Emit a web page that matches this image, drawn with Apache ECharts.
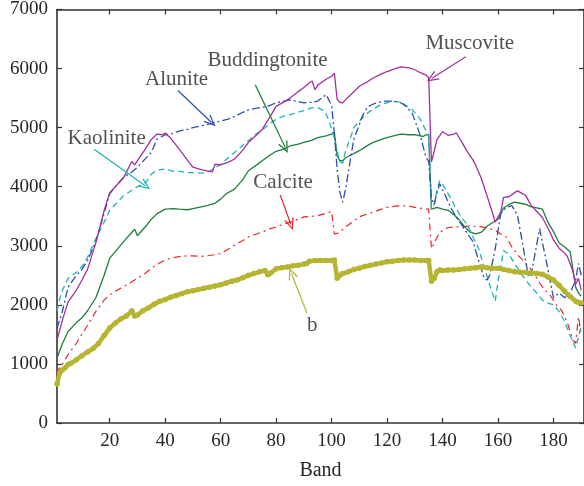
<!DOCTYPE html>
<html>
<head>
<meta charset="utf-8">
<script src="https://cdn.jsdelivr.net/npm/echarts@6/dist/echarts.min.js"></script>
<style>
  html, body { margin: 0; padding: 0; background: #ffffff; }
  #chart { width: 584px; height: 486px; }
</style>
</head>
<body>
<div id="chart"></div>
<script>
// Spectral curves (band number -> value)
const muscoviteBands = [1,3,5,8,10,12,15,18,20,22,25,28,29,30,33,35,37,39,40,42,45,48,50,53,55,57,58,60,63,65,68,70,73,75,78,80,83,85,88,90,92,93,94,95,98,100,101,102,103,104,105,107,110,113,115,118,120,123,125,128,130,132,134,135,136,137,138,140,142,144,145,147,149,151,152,154,156,158,159,161,162,164,166,167,169,170,172,174,176,178,180,182,184,185,186,187,188,189,190];
const muscoviteValues = [1400,1750,2050,2250,2420,2600,3050,3600,3900,4000,4150,4430,4370,4440,4650,4800,4890,4880,4910,4820,4640,4450,4330,4290,4270,4250,4380,4370,4420,4470,4620,4750,4880,4970,5200,5360,5440,5500,5610,5680,5760,5790,5640,5720,5820,5870,5920,5480,5430,5420,5470,5560,5700,5780,5840,5910,5950,6000,6030,6010,5980,5930,5890,5850,4420,4600,4800,4930,4870,4890,4910,4750,4590,4450,4360,4140,3850,3560,3400,3570,3820,3830,3900,3930,3880,3850,3680,3580,3480,3300,3100,2960,2880,2820,2700,2570,2350,2450,2250];

const aluniteBands = [1,3,5,8,10,12,15,18,20,22,25,28,30,33,35,37,40,42,45,48,50,53,55,58,60,63,65,68,70,73,75,78,80,83,85,88,90,93,95,98,100,101,102,103,104,105,106,108,110,111,113,115,118,120,122,125,127,129,131,132,134,135,136,137,138,139,141,143,145,147,149,151,153,155,156,157,159,161,163,165,167,169,171,172,173,175,176,177,179,180,182,184,186,188,189,190];
const aluniteValues = [1600,1900,2300,2500,2600,2750,3070,3550,3880,4000,4160,4250,4330,4480,4580,4800,4880,4890,4940,4970,5000,5030,5050,5090,5110,5150,5190,5260,5300,5330,5340,5380,5420,5450,5470,5440,5420,5430,5450,5560,5380,4900,4300,3900,3740,3950,4240,4800,5050,5190,5350,5400,5440,5450,5450,5420,5350,5250,5000,4860,4500,4430,3800,3700,3900,4050,3850,3640,3480,3350,3200,3070,2750,2450,2420,2500,2950,3550,3650,3680,3520,3000,2470,2500,2780,3290,3050,2840,2350,2120,2200,2120,2200,2420,2700,2500];

const kaoliniteBands = [1,2,3,5,8,10,12,15,18,20,22,25,28,30,33,35,37,40,43,45,48,50,53,55,58,60,63,65,68,70,73,75,78,80,83,85,88,90,93,95,97,98,99,100,101,102,103,104,105,107,108,110,113,115,118,120,122,125,127,129,131,132,134,135,136,137,138,139,140,141,143,145,147,149,151,153,155,157,159,160,161,162,164,166,168,170,172,174,176,178,180,182,184,186,188,189,190];
const kaoliniteValues = [1900,2100,2250,2450,2550,2650,2800,3120,3400,3600,3700,3850,3940,4000,4070,4210,4280,4300,4260,4260,4240,4240,4230,4240,4320,4380,4500,4580,4700,4780,4900,4960,5080,5140,5200,5220,5260,5290,5340,5340,5290,5230,5120,4980,4800,4600,4420,4400,4600,4850,5000,5110,5250,5310,5400,5420,5450,5430,5370,5310,5200,5140,4950,4900,3620,3700,3950,4100,4050,3960,3800,3620,3470,3350,3150,2950,2640,2340,2060,2400,2650,2920,2850,2700,2550,2420,2300,2200,2080,2030,2000,1890,1720,1480,1270,1450,1650];

const buddingtoniteBands = [1,3,5,8,10,12,15,18,20,22,25,28,29,30,33,35,37,40,43,45,48,50,53,55,58,60,62,65,68,70,73,75,78,80,83,85,88,90,93,95,98,100,101,102,103,104,105,108,110,113,115,118,120,123,125,128,130,133,134,135,136,138,140,142,144,146,148,150,152,154,156,158,160,162,164,166,168,170,172,174,176,178,180,182,184,186,187,188,189,190];
const buddingtoniteValues = [1100,1350,1550,1700,1780,1900,2120,2500,2790,2900,3070,3230,3280,3170,3330,3450,3540,3620,3630,3620,3610,3630,3660,3680,3720,3790,3880,3960,4120,4270,4370,4440,4540,4600,4640,4690,4720,4750,4790,4830,4860,4890,4920,4520,4440,4440,4490,4560,4610,4700,4750,4800,4830,4870,4890,4880,4880,4850,4880,4870,3620,3650,3620,3600,3530,3440,3320,3230,3200,3230,3330,3390,3450,3640,3700,3740,3720,3700,3660,3640,3620,3400,3240,3050,2980,2900,2600,2300,2200,2150];

const calciteBands = [1,2,3,5,8,10,12,15,18,20,22,25,28,30,33,35,38,40,43,45,48,50,53,55,58,60,63,65,68,70,73,75,78,80,83,85,88,90,93,95,98,100,101,102,103,105,108,110,113,115,118,120,123,125,128,130,133,135,136,137,139,142,145,147,150,152,154,157,159,161,163,165,167,169,171,173,175,177,179,181,183,185,186,187,188,189,190];
const calciteValues = [830,950,1000,1160,1350,1500,1650,1890,2080,2170,2230,2310,2390,2450,2540,2620,2710,2760,2800,2815,2830,2830,2820,2830,2850,2870,2950,3010,3090,3150,3200,3235,3290,3320,3370,3400,3450,3490,3500,3510,3550,3580,3200,3210,3230,3320,3420,3490,3540,3570,3620,3650,3670,3680,3670,3650,3630,3620,2950,3050,3230,3310,3320,3320,3340,3330,3320,3290,3260,3200,3150,2980,2850,2750,2650,2530,2370,2250,2150,2000,1900,1700,1550,1400,1350,1800,1500];

const bBands = [1,2,3,4,5,6,8,10,12,14,16,18,20,22,24,26,28,29,30,32,34,36,38,40,42,44,46,48,50,52,54,56,58,60,62,64,66,68,70,72,74,76,77,78,80,82,84,86,88,90,91,92,94,96,98,100,101,102,103,104,106,108,110,112,114,116,118,120,122,124,126,128,130,132,134,135,136,137,138,139,140,142,144,146,148,150,152,154,156,158,160,162,164,166,168,170,172,174,176,178,180,182,184,186,188,189,190];
const bValues = [660,850,900,940,990,1010,1070,1140,1200,1260,1350,1480,1610,1690,1760,1810,1900,1810,1830,1900,1950,2010,2060,2090,2130,2160,2190,2220,2240,2260,2280,2300,2320,2340,2370,2400,2420,2460,2500,2530,2560,2580,2510,2540,2610,2630,2640,2660,2670,2690,2700,2740,2750,2750,2750,2750,2760,2450,2500,2530,2560,2600,2620,2650,2670,2690,2710,2730,2740,2750,2760,2760,2760,2750,2750,2750,2400,2450,2560,2590,2580,2590,2590,2600,2610,2620,2630,2640,2630,2620,2620,2600,2580,2560,2550,2550,2540,2530,2520,2470,2420,2330,2230,2140,2060,2040,2030];

// Axis ticks
const bandTicks = [20, 40, 60, 80, 100, 120, 140, 160, 180];
const valueTicks = [0, 1000, 2000, 3000, 4000, 5000, 6000, 7000];

// Curve names with their label anchor [band, value]
const labelNames = ['Muscovite', 'Buddingtonite', 'Alunite', 'Kaolinite', 'Calcite', 'b'];
const labelBands = [149.8, 76.9, 44.1, 18.9, 82.5, 93.0];
const labelValues = [6430, 6144, 5808, 4818, 4079, 1645];

// Pointer lines: tail [band, value] -> head [band, value]
const arrowTailBands = [148.4, 72.5, 44.6, 14.4, 81.5, 91.1];
const arrowTailValues = [6200, 5724, 5629, 4633, 3861, 1863];
const arrowHeadBands = [136.2, 83.3, 56.6, 32.8, 85.3, 85.5];
const arrowHeadValues = [5837, 4662, 5092, 4017, 3363, 2535];

const colors = {
  muscovite: '#a2309e',
  alunite: '#2e4fae',
  kaolinite: '#1fb3b0',
  buddingtonite: '#1f7f3b',
  calcite: '#e8262a',
  b: '#b5b531'
};
const arrowColors = [colors.muscovite, colors.buddingtonite, colors.alunite, colors.kaolinite, colors.calcite, colors.b];

const pair = (xs, ys) => xs.map((x, i) => [x, ys[i]]);

const serifFont = '"Liberation Serif", "DejaVu Serif", serif';
const axisColor = '#333333';
const textColor = '#262626';

const chart = echarts.init(document.getElementById('chart'), null, { renderer: 'canvas' });

const openArrow = 'path://M5,0 L10,10 L8.8,10.4 L5,2.6 L1.2,10.4 L0,10 Z';

const option = {
  animation: false,
  backgroundColor: '#ffffff',
  grid: { left: 57, right: -2, top: 9, bottom: 60, containLabel: false },
  xAxis: [
    {
      type: 'value', position: 'bottom', min: 1, max: 191,
      name: 'Band', nameLocation: 'middle', nameGap: 38,
      nameTextStyle: { fontFamily: serifFont, fontSize: 20, color: textColor },
      axisLine: { show: true, onZero: false, lineStyle: { color: axisColor, width: 1.6 } },
      axisTick: { show: true, inside: true, length: 5, customValues: bandTicks, lineStyle: { color: axisColor, width: 1.2 } },
      axisLabel: { show: true, customValues: bandTicks, margin: 9, fontFamily: serifFont, fontSize: 19, color: textColor },
      splitLine: { show: false }
    },
    {
      type: 'value', position: 'top', min: 1, max: 191,
      axisLine: { show: true, onZero: false, lineStyle: { color: axisColor, width: 1.6 } },
      axisTick: { show: true, inside: true, length: 5, customValues: bandTicks, lineStyle: { color: axisColor, width: 1.2 } },
      axisLabel: { show: false },
      splitLine: { show: false }
    }
  ],
  yAxis: [
    {
      type: 'value', position: 'left', min: 0, max: 7000, interval: 1000,
      axisLine: { show: true, onZero: false, lineStyle: { color: axisColor, width: 1.6 } },
      axisTick: { show: true, inside: true, length: 5, lineStyle: { color: axisColor, width: 1.2 } },
      axisLabel: { show: true, margin: 9, fontFamily: serifFont, fontSize: 19, color: textColor,
        formatter: v => (valueTicks.indexOf(v) >= 0 ? String(v) : '') },
      splitLine: { show: false }
    },
    {
      type: 'value', position: 'right', min: 0, max: 7000, interval: 1000,
      axisLine: { show: true, onZero: false, lineStyle: { color: axisColor, width: 1.6 } },
      axisTick: { show: true, inside: true, length: 5, lineStyle: { color: axisColor, width: 1.2 } },
      axisLabel: { show: false },
      splitLine: { show: false }
    }
  ],
  series: [
    {
      name: 'Calcite', type: 'line', data: pair(calciteBands, calciteValues),
      showSymbol: false,
      lineStyle: { color: colors.calcite, width: 1.2, type: [7, 4, 2, 4] }
    },
    {
      name: 'Buddingtonite', type: 'line', data: pair(buddingtoniteBands, buddingtoniteValues),
      showSymbol: false,
      lineStyle: { color: colors.buddingtonite, width: 1.3 }
    },
    {
      name: 'Kaolinite', type: 'line', data: pair(kaoliniteBands, kaoliniteValues),
      showSymbol: false,
      lineStyle: { color: colors.kaolinite, width: 1.3, type: [6, 4] }
    },
    {
      name: 'Alunite', type: 'line', data: pair(aluniteBands, aluniteValues),
      showSymbol: false,
      lineStyle: { color: colors.alunite, width: 1.3, type: [8, 3, 2, 3] }
    },
    {
      name: 'Muscovite', type: 'line', data: pair(muscoviteBands, muscoviteValues),
      showSymbol: false,
      lineStyle: { color: colors.muscovite, width: 1.3 }
    },
    {
      name: 'b', type: 'line', data: pair(bBands, bValues),
      showSymbol: true, symbol: 'circle', symbolSize: 5.5,
      itemStyle: { color: colors.b, borderWidth: 0 },
      lineStyle: { color: colors.b, width: 4.5 }
    },
    {
      name: 'labels', type: 'scatter', symbolSize: 0, silent: true,
      data: labelNames.map((n, i) => ({ name: n, value: [labelBands[i], labelValues[i]] })),
      label: {
        show: true, position: 'inside', formatter: p => p.name,
        fontFamily: serifFont, fontSize: 21, color: textColor
      },
      markLine: {
        silent: true, symbol: ['none', openArrow], symbolSize: [10, 12],
        label: { show: false },
        data: arrowTailBands.map((x, i) => [
          { coord: [x, arrowTailValues[i]], lineStyle: { color: arrowColors[i], width: 1.2, type: 'solid' }, itemStyle: { color: arrowColors[i] } },
          { coord: [arrowHeadBands[i], arrowHeadValues[i]] }
        ])
      }
    }
  ]
};

chart.setOption(option);
</script>
</body>
</html>
